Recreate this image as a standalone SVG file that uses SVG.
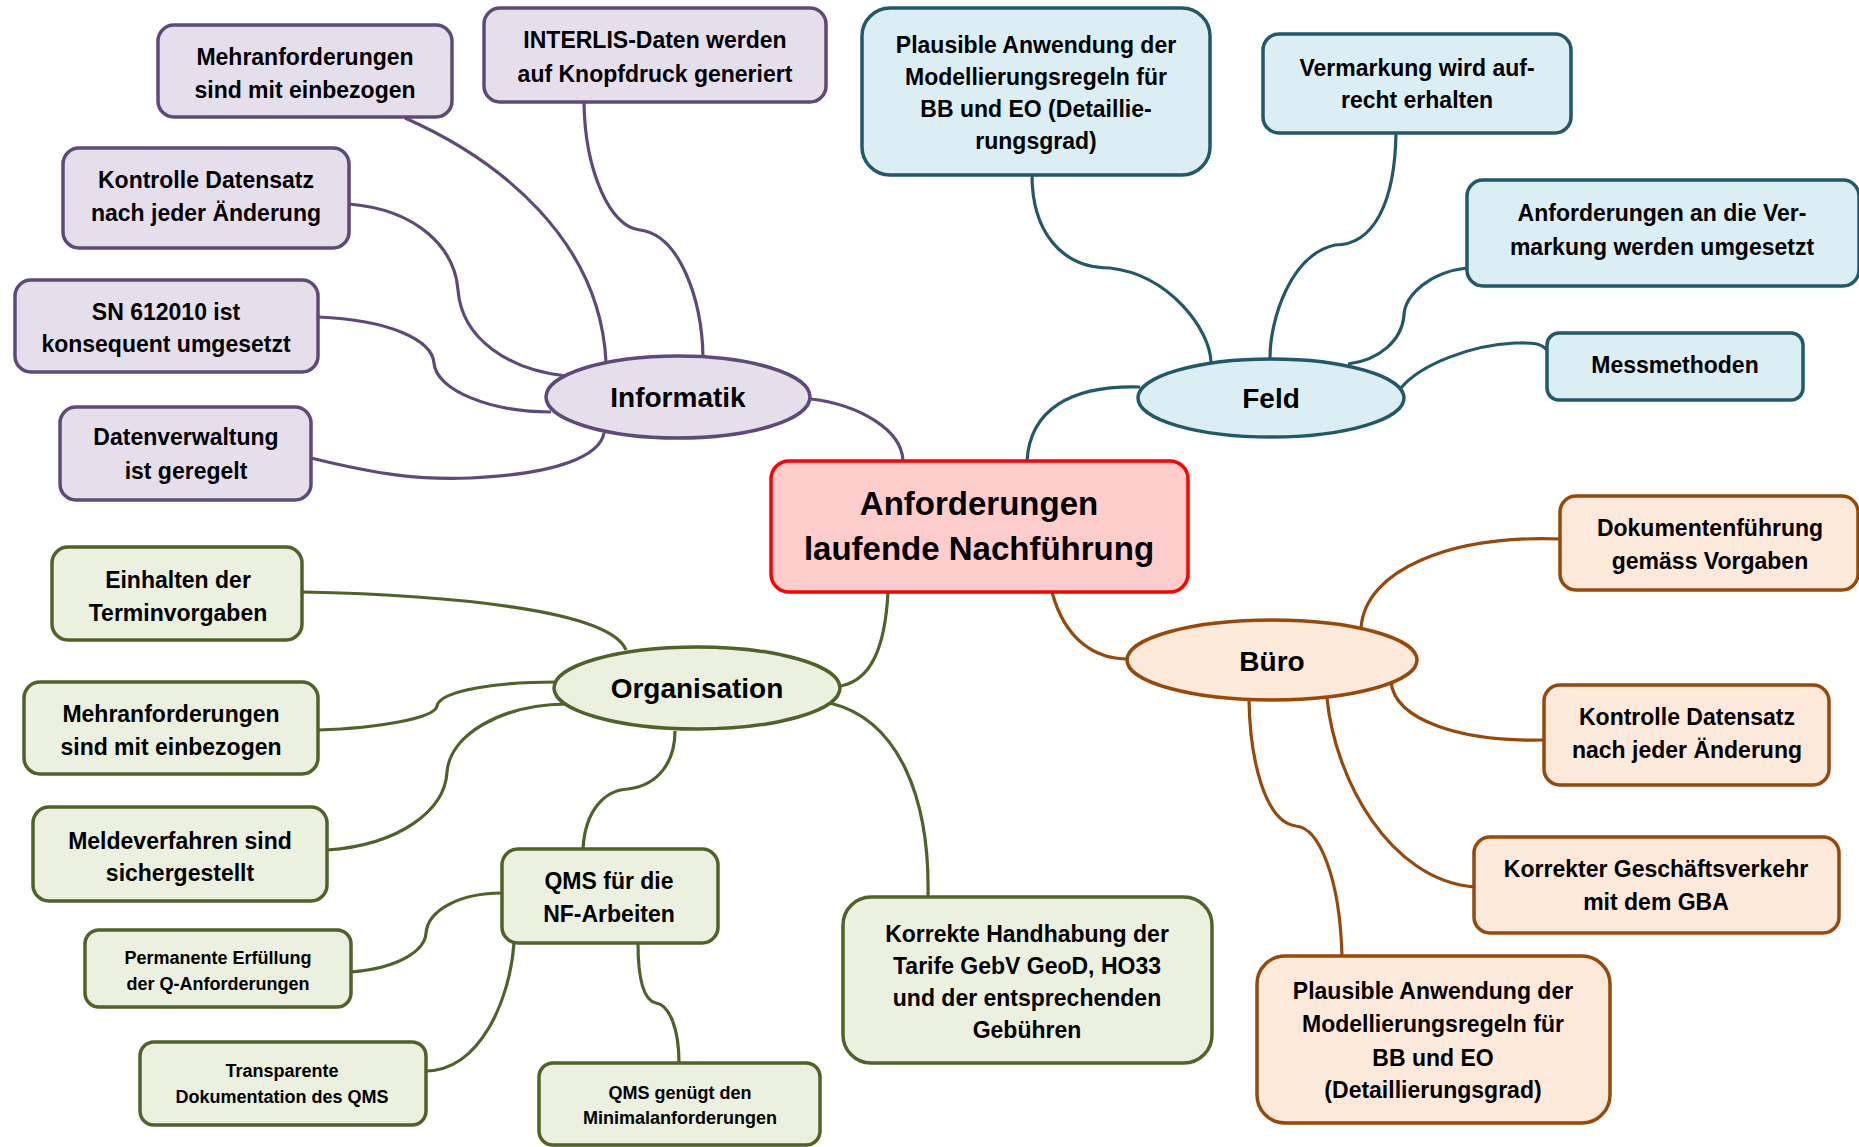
<svg xmlns="http://www.w3.org/2000/svg" width="1859" height="1147" viewBox="0 0 1859 1147">
<style>
text{font-family:"Liberation Sans Narrow","Liberation Sans",sans-serif;font-weight:bold;fill:#000;text-anchor:middle;dominant-baseline:central;font-size:23px}
.sm{font-size:18px}
.el{font-size:28px}
.ct{font-size:33px}
.c{fill:none;stroke-width:3.2}
.pu{stroke:#5F497A}.te{stroke:#215968}.gr{stroke:#4F6228}.br{stroke:#984807}
.npu{fill:#E5DFEC;stroke:#5F497A;stroke-width:3.5}
.nte{fill:#DAEEF3;stroke:#215968;stroke-width:3.5}
.ngr{fill:#EBF1DE;stroke:#4F6228;stroke-width:3.5}
.nbr{fill:#FDE9D9;stroke:#984807;stroke-width:3.5}
</style>
<g id="connectors">
<path class="c pu" d="M811 399 C860 405,902 430,903 461"/>
<path class="c te" d="M1027 461 C1030 410,1070 385,1140 387"/>
<path class="c gr" d="M888 592 C885 650,870 680,841 686"/>
<path class="c br" d="M1052 592 C1065 640,1095 659,1128 659"/>
<path class="c pu" d="M405 118 C500 160,600 240,606 362"/>
<path class="c pu" d="M584 103 C585 170,610 228,640 230 C680 235,702 300,703 357"/>
<path class="c pu" d="M349 204 C420 210,455 250,458 290 C462 340,510 370,566 376"/>
<path class="c pu" d="M318 317 C390 320,432 340,434 363 C436 390,490 412,551 412"/>
<path class="c pu" d="M311 458 C380 475,420 480,470 478 C560 474,600 455,604 433"/>
<path class="c te" d="M1032 175 C1032 230,1060 268,1110 268 C1170 275,1210 330,1211 362"/>
<path class="c te" d="M1396 133 C1395 200,1375 245,1335 245 C1290 255,1270 320,1270 358"/>
<path class="c te" d="M1467 268 C1430 272,1405 295,1404 315 C1402 340,1380 360,1348 364"/>
<path class="c te" d="M1547 350 C1540 342,1530 343,1515 343 C1470 345,1420 365,1401 388"/>
<path class="c gr" d="M302 592 C450 595,610 610,626 650"/>
<path class="c gr" d="M318 730 C380 728,435 718,437 706 C440 690,500 682,556 682"/>
<path class="c gr" d="M327 850 C400 845,445 810,447 772 C450 735,500 705,566 704"/>
<path class="c gr" d="M583 849 C585 810,605 790,628 789 C660 785,675 760,675 731"/>
<path class="c gr" d="M830 703 C900 720,930 800,928 897"/>
<path class="c gr" d="M351 972 C400 968,425 950,426 933 C428 910,460 893,502 893"/>
<path class="c gr" d="M426 1071 C480 1070,510 1000,514 943"/>
<path class="c gr" d="M679 1063 C679 1030,670 1005,656 1003 C642 1000,638 975,638 943"/>
<path class="c br" d="M1560 539 C1450 535,1365 570,1361 628"/>
<path class="c br" d="M1544 740 C1460 742,1395 720,1391 682"/>
<path class="c br" d="M1474 887 C1390 880,1335 780,1327 698"/>
<path class="c br" d="M1342 956 C1340 880,1320 828,1296 826 C1265 822,1250 760,1249 700"/>
</g>
<g id="center">
<rect x="771" y="461" width="417" height="131" rx="18" fill="#FFCCCC" stroke="#FF0000" stroke-width="3.5"/>
<text class="ct" x="979" y="503">Anforderungen</text>
<text class="ct" x="979" y="548">laufende Nachführung</text>
</g>
<g id="informatik">
<ellipse class="npu" cx="678" cy="397" rx="132" ry="41"/>
<text class="el" x="678" y="397">Informatik</text>
</g>
<g id="feld">
<ellipse class="nte" cx="1271" cy="398" rx="133" ry="39"/>
<text class="el" x="1271" y="398">Feld</text>
</g>
<g id="organisation">
<ellipse class="ngr" cx="697" cy="688" rx="143" ry="41"/>
<text class="el" x="697" y="688">Organisation</text>
</g>
<g id="buero">
<ellipse class="nbr" cx="1272" cy="660" rx="145" ry="40"/>
<text class="el" x="1272" y="661">Büro</text>
</g>
<g id="i1"><rect class="npu" x="158" y="25" width="294" height="92" rx="16"/><text x="305" y="57">Mehranforderungen</text><text x="305" y="90">sind mit einbezogen</text></g>
<g id="i2"><rect class="npu" x="484" y="8" width="342" height="94" rx="16"/><text x="655" y="40">INTERLIS-Daten werden</text><text x="655" y="74">auf Knopfdruck generiert</text></g>
<g id="i3"><rect class="npu" x="63" y="148" width="286" height="100" rx="16"/><text x="206" y="180">Kontrolle Datensatz</text><text x="206" y="213">nach jeder Änderung</text></g>
<g id="i4"><rect class="npu" x="15" y="280" width="303" height="92" rx="16"/><text x="166" y="312">SN 612010 ist</text><text x="166" y="344">konsequent umgesetzt</text></g>
<g id="i5"><rect class="npu" x="60" y="407" width="251" height="93" rx="16"/><text x="186" y="437">Datenverwaltung</text><text x="186" y="471">ist geregelt</text></g>
<g id="f1"><rect class="nte" x="862" y="8" width="348" height="167" rx="28"/><text x="1036" y="45">Plausible Anwendung der</text><text x="1036" y="77">Modellierungsregeln für</text><text x="1036" y="109">BB und EO (Detaillie-</text><text x="1036" y="141">rungsgrad)</text></g>
<g id="f2"><rect class="nte" x="1263" y="34" width="308" height="99" rx="16"/><text x="1417" y="68">Vermarkung wird auf-</text><text x="1417" y="100">recht erhalten</text></g>
<g id="f3"><rect class="nte" x="1467" y="180" width="392" height="106" rx="16"/><text x="1662" y="213">Anforderungen an die Ver-</text><text x="1662" y="247">markung werden umgesetzt</text></g>
<g id="f4"><rect class="nte" x="1547" y="333" width="256" height="67" rx="12"/><text x="1675" y="365">Messmethoden</text></g>
<g id="o1"><rect class="ngr" x="52" y="547" width="250" height="93" rx="16"/><text x="178" y="580">Einhalten der</text><text x="178" y="613">Terminvorgaben</text></g>
<g id="o2"><rect class="ngr" x="24" y="682" width="294" height="92" rx="16"/><text x="171" y="714">Mehranforderungen</text><text x="171" y="747">sind mit einbezogen</text></g>
<g id="o3"><rect class="ngr" x="33" y="807" width="294" height="94" rx="16"/><text x="180" y="841">Meldeverfahren sind</text><text x="180" y="873">sichergestellt</text></g>
<g id="o4"><rect class="ngr" x="502" y="849" width="216" height="94" rx="16"/><text x="609" y="881">QMS für die</text><text x="609" y="914">NF-Arbeiten</text></g>
<g id="o5"><rect class="ngr" x="85" y="930" width="266" height="77" rx="14"/><text class="sm" x="218" y="958">Permanente Erfüllung</text><text class="sm" x="218" y="984">der Q-Anforderungen</text></g>
<g id="o6"><rect class="ngr" x="140" y="1042" width="286" height="83" rx="14"/><text class="sm" x="282" y="1071">Transparente</text><text class="sm" x="282" y="1097">Dokumentation des QMS</text></g>
<g id="o7"><rect class="ngr" x="539" y="1063" width="281" height="82" rx="14"/><text class="sm" x="680" y="1093">QMS genügt den</text><text class="sm" x="680" y="1118">Minimalanforderungen</text></g>
<g id="o8"><rect class="ngr" x="843" y="897" width="369" height="166" rx="28"/><text x="1027" y="934">Korrekte Handhabung der</text><text x="1027" y="966">Tarife GebV GeoD, HO33</text><text x="1027" y="998">und der entsprechenden</text><text x="1027" y="1030">Gebühren</text></g>
<g id="b1"><rect class="nbr" x="1560" y="496" width="298" height="94" rx="16"/><text x="1710" y="528">Dokumentenführung</text><text x="1710" y="561">gemäss Vorgaben</text></g>
<g id="b2"><rect class="nbr" x="1544" y="685" width="285" height="100" rx="16"/><text x="1687" y="717">Kontrolle Datensatz</text><text x="1687" y="750">nach jeder Änderung</text></g>
<g id="b3"><rect class="nbr" x="1474" y="837" width="365" height="96" rx="16"/><text x="1656" y="869">Korrekter Geschäftsverkehr</text><text x="1656" y="902">mit dem GBA</text></g>
<g id="b4"><rect class="nbr" x="1257" y="956" width="353" height="167" rx="28"/><text x="1433" y="991">Plausible Anwendung der</text><text x="1433" y="1024">Modellierungsregeln für</text><text x="1433" y="1058">BB und EO</text><text x="1433" y="1090">(Detaillierungsgrad)</text></g>
</svg>
